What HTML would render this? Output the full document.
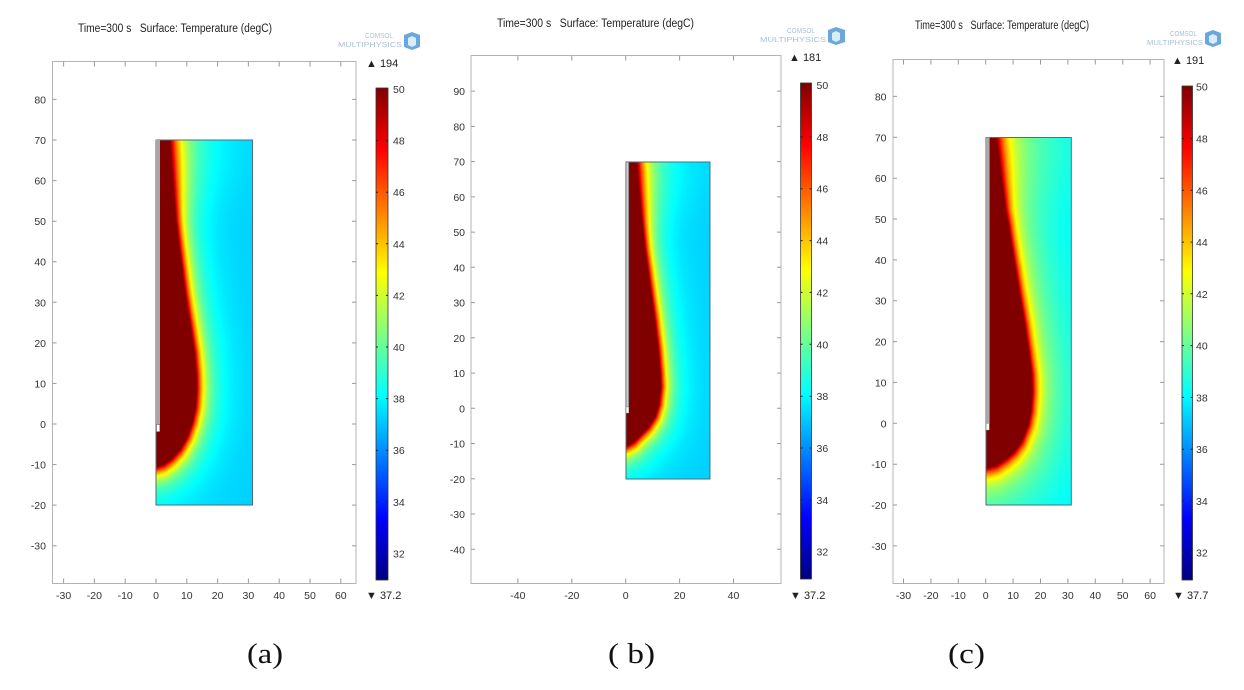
<!DOCTYPE html>
<html><head><meta charset="utf-8"><style>
html,body{margin:0;padding:0;background:#fff;}
body{width:1244px;height:690px;position:relative;overflow:hidden;}
svg{position:absolute;left:0;top:0;}
canvas{position:absolute;}
text{font-family:"Liberation Sans",Arial,sans-serif;}
.t{font-size:10.5px;fill:#333;}
.ttl{font-size:11.5px;fill:#222;white-space:pre;}
.lg{font-size:7px;fill:#a9bfd6;}
.cap{font-family:"Liberation Serif","Times New Roman",serif;font-size:28px;fill:#111;}
</style></head><body>
<svg width="1244" height="690" viewBox="0 0 1244 690">
<defs>
<linearGradient id="jet" x1="0" y1="1" x2="0" y2="0">
<stop offset="0" stop-color="#000080"/><stop offset="0.125" stop-color="#0000ff"/><stop offset="0.375" stop-color="#00ffff"/><stop offset="0.625" stop-color="#ffff00"/><stop offset="0.875" stop-color="#ff0000"/><stop offset="1" stop-color="#800000"/>
</linearGradient>
</defs>

<!-- ================= Panel (a) ================= -->
<text class="ttl" x="78" y="32" textLength="194" lengthAdjust="spacingAndGlyphs">Time=300 s&#160;&#160;&#160;Surface: Temperature (degC)</text>
<text class="lg" x="365" y="38" textLength="28" lengthAdjust="spacingAndGlyphs">COMSOL</text>
<text class="lg" x="338" y="47" textLength="64" lengthAdjust="spacingAndGlyphs">MULTIPHYSICS</text>
<polygon points="412,32 420,35 420,47 412,50 404,47 404,35" fill="#6aa8dc"/><polygon points="412,36 416,38 416,45 412,47 408,45 408,38" fill="#d8ecfa"/>
<rect x="52.5" y="61.5" width="303.5" height="522" fill="none" stroke="#b4b4b4"/>
<path stroke="#9a9a9a" fill="none" d="M63.6 583.5v-5M94.4 583.5v-5M125.2 583.5v-5M156 583.5v-5M186.8 583.5v-5M217.6 583.5v-5M248.4 583.5v-5M279.2 583.5v-5M310 583.5v-5M340.8 583.5v-5
M63.6 61.5v5M94.4 61.5v5M125.2 61.5v5M156 61.5v5M186.8 61.5v5M217.6 61.5v5M248.4 61.5v5M279.2 61.5v5M310 61.5v5M340.8 61.5v5
M52.5 99.4h4M52.5 140h4M52.5 180.6h4M52.5 221.2h4M52.5 261.7h4M52.5 302.3h4M52.5 342.9h4M52.5 383.4h4M52.5 424h4M52.5 464.6h4M52.5 505.1h4M52.5 545.7h4
M356 99.4h-4M356 140h-4M356 180.6h-4M356 221.2h-4M356 261.7h-4M356 302.3h-4M356 342.9h-4M356 383.4h-4M356 424h-4M356 464.6h-4M356 505.1h-4M356 545.7h-4"/>
<g class="t" text-anchor="middle">
<text x="63.6" y="599">-30</text><text x="94.4" y="599">-20</text><text x="125.2" y="599">-10</text><text x="156" y="599">0</text><text x="186.8" y="599">10</text><text x="217.6" y="599">20</text><text x="248.4" y="599">30</text><text x="279.2" y="599">40</text><text x="310" y="599">50</text><text x="340.8" y="599">60</text>
</g>
<g class="t" text-anchor="end">
<text x="46" y="103.4">80</text><text x="46" y="144">70</text><text x="46" y="184.6">60</text><text x="46" y="225.2">50</text><text x="46" y="265.7">40</text><text x="46" y="306.3">30</text><text x="46" y="346.9">20</text><text x="46" y="387.4">10</text><text x="46" y="428">0</text><text x="46" y="468.6">-10</text><text x="46" y="509.1">-20</text><text x="46" y="549.7">-30</text>
</g>
<rect x="376" y="88" width="12" height="492" fill="url(#jet)" stroke="#333" stroke-width="0.8"/>
<path stroke="#222" d="M376 140.6h2M376 192.2h2M376 243.8h2M376 295.4h2M376 347h2M376 398.6h2M376 450.2h2M376 501.8h2M376 553.4h2M388 140.6h-2M388 192.2h-2M388 243.8h-2M388 295.4h-2M388 347h-2M388 398.6h-2M388 450.2h-2M388 501.8h-2M388 553.4h-2"/>
<g class="t">
<text x="393" y="93">50</text><text x="393" y="144.6">48</text><text x="393" y="196.2">46</text><text x="393" y="247.8">44</text><text x="393" y="299.4">42</text><text x="393" y="351">40</text><text x="393" y="402.6">38</text><text x="393" y="454.2">36</text><text x="393" y="505.8">34</text><text x="393" y="557.4">32</text>
<text x="366" y="67" style="font-size:11px;fill:#222">▲ 194</text>
<text x="366" y="599" style="font-size:11px;fill:#222">▼ 37.2</text>
</g>
<rect x="156" y="140" width="96.5" height="365" fill="#00e4ff"/>
<path d="M156 140H170L176 225L196 380L191 430L180 450L156 467Z" fill="#800000"/>

<!-- ================= Panel (b) ================= -->
<text class="ttl" x="497" y="27" textLength="197" lengthAdjust="spacingAndGlyphs">Time=300 s&#160;&#160;&#160;Surface: Temperature (degC)</text>
<text class="lg" x="787" y="33" textLength="28" lengthAdjust="spacingAndGlyphs">COMSOL</text>
<text class="lg" x="760" y="42" textLength="66" lengthAdjust="spacingAndGlyphs">MULTIPHYSICS</text>
<polygon points="836,27 845,30 845,42 836,45 828,42 828,30" fill="#6aa8dc"/><polygon points="836,31 840,33 840,40 836,42 832,40 832,33" fill="#d8ecfa"/>
<rect x="471" y="55.5" width="310" height="528" fill="none" stroke="#b4b4b4"/>
<path stroke="#9a9a9a" fill="none" d="M517.9 583.5v-5M571.8 583.5v-5M625.7 583.5v-5M679.6 583.5v-5M733.5 583.5v-5
M517.9 55.5v5M571.8 55.5v5M625.7 55.5v5M679.6 55.5v5M733.5 55.5v5
M471 91.1h4M471 126.4h4M471 161.6h4M471 196.9h4M471 232.1h4M471 267.3h4M471 302.6h4M471 337.8h4M471 373.1h4M471 408.3h4M471 443.5h4M471 478.8h4M471 514h4M471 549.3h4
M781 91.1h-4M781 126.4h-4M781 161.6h-4M781 196.9h-4M781 232.1h-4M781 267.3h-4M781 302.6h-4M781 337.8h-4M781 373.1h-4M781 408.3h-4M781 443.5h-4M781 478.8h-4M781 514h-4M781 549.3h-4"/>
<g class="t" text-anchor="middle">
<text x="517.9" y="599">-40</text><text x="571.8" y="599">-20</text><text x="625.7" y="599">0</text><text x="679.6" y="599">20</text><text x="733.5" y="599">40</text>
</g>
<g class="t" text-anchor="end">
<text x="465" y="95.1">90</text><text x="465" y="130.4">80</text><text x="465" y="165.6">70</text><text x="465" y="200.9">60</text><text x="465" y="236.1">50</text><text x="465" y="271.3">40</text><text x="465" y="306.6">30</text><text x="465" y="341.8">20</text><text x="465" y="377.1">10</text><text x="465" y="412.3">0</text><text x="465" y="447.5">-10</text><text x="465" y="482.8">-20</text><text x="465" y="518">-30</text><text x="465" y="553.3">-40</text>
</g>
<rect x="800.5" y="83" width="11" height="496" fill="url(#jet)" stroke="#333" stroke-width="0.8"/>
<path stroke="#222" d="M800.5 136.9h2M800.5 188.7h2M800.5 240.6h2M800.5 292.4h2M800.5 344.3h2M800.5 396.2h2M800.5 448h2M800.5 499.9h2M800.5 551.7h2M811.5 136.9h-2M811.5 188.7h-2M811.5 240.6h-2M811.5 292.4h-2M811.5 344.3h-2M811.5 396.2h-2M811.5 448h-2M811.5 499.9h-2M811.5 551.7h-2"/>
<g class="t">
<text x="816.5" y="89">50</text><text x="816.5" y="140.9">48</text><text x="816.5" y="192.7">46</text><text x="816.5" y="244.6">44</text><text x="816.5" y="296.4">42</text><text x="816.5" y="348.3">40</text><text x="816.5" y="400.2">38</text><text x="816.5" y="452">36</text><text x="816.5" y="503.9">34</text><text x="816.5" y="555.7">32</text>
<text x="789" y="61" style="font-size:11px;fill:#222">▲ 181</text>
<text x="790" y="599" style="font-size:11px;fill:#222">▼ 37.2</text>
</g>
<rect x="626" y="162" width="84" height="317" fill="#00e4ff"/>
<path d="M626 162H637L645 250L660 383L655 417L642 434L626 447Z" fill="#800000"/>

<!-- ================= Panel (c) ================= -->
<text class="ttl" x="915" y="29" textLength="174" lengthAdjust="spacingAndGlyphs">Time=300 s&#160;&#160;&#160;Surface: Temperature (degC)</text>
<text class="lg" x="1170" y="36" textLength="27" lengthAdjust="spacingAndGlyphs">COMSOL</text>
<text class="lg" x="1147" y="45" textLength="56" lengthAdjust="spacingAndGlyphs">MULTIPHYSICS</text>
<polygon points="1213,30 1221,33 1221,44 1213,47 1205,44 1205,33" fill="#6aa8dc"/><polygon points="1213,34 1217,36 1217,42 1213,44 1209,42 1209,36" fill="#d8ecfa"/>
<rect x="893" y="59.5" width="271" height="524" fill="none" stroke="#b4b4b4"/>
<path stroke="#9a9a9a" fill="none" d="M903.5 583.5v-5M930.9 583.5v-5M958.3 583.5v-5M985.7 583.5v-5M1013.1 583.5v-5M1040.5 583.5v-5M1067.9 583.5v-5M1095.3 583.5v-5M1122.7 583.5v-5M1150.1 583.5v-5
M903.5 59.5v5M930.9 59.5v5M958.3 59.5v5M985.7 59.5v5M1013.1 59.5v5M1040.5 59.5v5M1067.9 59.5v5M1095.3 59.5v5M1122.7 59.5v5M1150.1 59.5v5
M893 96.4h4M893 137.3h4M893 178.2h4M893 219h4M893 259.9h4M893 300.7h4M893 341.6h4M893 382.4h4M893 423.3h4M893 464.2h4M893 505h4M893 545.9h4
M1164 96.4h-4M1164 137.3h-4M1164 178.2h-4M1164 219h-4M1164 259.9h-4M1164 300.7h-4M1164 341.6h-4M1164 382.4h-4M1164 423.3h-4M1164 464.2h-4M1164 505h-4M1164 545.9h-4"/>
<g class="t" text-anchor="middle">
<text x="903.5" y="599">-30</text><text x="930.9" y="599">-20</text><text x="958.3" y="599">-10</text><text x="985.7" y="599">0</text><text x="1013.1" y="599">10</text><text x="1040.5" y="599">20</text><text x="1067.9" y="599">30</text><text x="1095.3" y="599">40</text><text x="1122.7" y="599">50</text><text x="1150.1" y="599">60</text>
</g>
<g class="t" text-anchor="end">
<text x="886.5" y="100.4">80</text><text x="886.5" y="141.3">70</text><text x="886.5" y="182.2">60</text><text x="886.5" y="223">50</text><text x="886.5" y="263.9">40</text><text x="886.5" y="304.7">30</text><text x="886.5" y="345.6">20</text><text x="886.5" y="386.4">10</text><text x="886.5" y="427.3">0</text><text x="886.5" y="468.2">-10</text><text x="886.5" y="509">-20</text><text x="886.5" y="549.9">-30</text>
</g>
<rect x="1182" y="86" width="10.5" height="494" fill="url(#jet)" stroke="#333" stroke-width="0.8"/>
<path stroke="#222" d="M1182 138.5h2M1182 190.3h2M1182 242.1h2M1182 293.8h2M1182 345.6h2M1182 397.4h2M1182 449.2h2M1182 501h2M1182 552.7h2M1192.5 138.5h-2M1192.5 190.3h-2M1192.5 242.1h-2M1192.5 293.8h-2M1192.5 345.6h-2M1192.5 397.4h-2M1192.5 449.2h-2M1192.5 501h-2M1192.5 552.7h-2"/>
<g class="t">
<text x="1196" y="90.7">50</text><text x="1196" y="142.5">48</text><text x="1196" y="194.3">46</text><text x="1196" y="246.1">44</text><text x="1196" y="297.8">42</text><text x="1196" y="349.6">40</text><text x="1196" y="401.4">38</text><text x="1196" y="453.2">36</text><text x="1196" y="505">34</text><text x="1196" y="556.7">32</text>
<text x="1172" y="64" style="font-size:11px;fill:#222">▲ 191</text>
<text x="1173" y="599" style="font-size:11px;fill:#222">▼ 37.7</text>
</g>
<rect x="986" y="137.5" width="85.3" height="367.5" fill="#30ffd0"/>
<path d="M986 137.5H997L1009 225L1032 390L1028 425L1008 458L986 468Z" fill="#800000"/>

<!-- captions -->
<text class="cap" x="247" y="663" textLength="36" lengthAdjust="spacingAndGlyphs">(a)</text>
<text class="cap" x="608" y="663" textLength="47" lengthAdjust="spacingAndGlyphs">( b)</text>
<text class="cap" x="948" y="663" textLength="37" lengthAdjust="spacingAndGlyphs">(c)</text>
</svg>

<canvas id="c0" width="97" height="365" style="left:156px;top:140px;width:97px;height:365px"></canvas>
<canvas id="c1" width="84" height="317" style="left:626px;top:162px;width:84px;height:317px"></canvas>
<canvas id="c2" width="85" height="368" style="left:986px;top:137px;width:85px;height:368px"></canvas>

<svg width="1244" height="690" viewBox="0 0 1244 690" style="pointer-events:none">
<rect x="156" y="140" width="96.5" height="365" fill="none" stroke="#4d6f7a" stroke-width="1"/>
<rect x="156" y="140" width="4" height="284" fill="#a6a6a6"/>
<rect x="156.6" y="424.5" width="3" height="7" fill="#fff" stroke="#999" stroke-width="0.4"/>

<rect x="626" y="162" width="84" height="317" fill="none" stroke="#4d6f7a" stroke-width="1"/>
<rect x="626" y="162" width="2.8" height="245" fill="#cfcfcf" stroke="#555" stroke-width="0.6"/>
<rect x="626.2" y="407" width="2.5" height="6" fill="#fff" stroke="#999" stroke-width="0.4"/>

<rect x="986" y="137.5" width="85.3" height="367.5" fill="none" stroke="#4d6f7a" stroke-width="1"/>
<rect x="986" y="137.5" width="3.6" height="286" fill="#a8a8a8"/>
<rect x="986.3" y="423.5" width="3" height="6.5" fill="#fff" stroke="#999" stroke-width="0.4"/>
</svg>

<script>
(function(){
var P=[
{id:'c0',l:156,t:140,x0:156,sx:3.08,y0:424,sy:4.057,Ti:37.2,A1:8,L1:2,A2:4.8,L2:5.5,
 pts:[[4.0,76],[4.5,70],[5.5,60],[6.5,50],[7.8,42],[9.5,32],[11.2,24],[12.5,17.5],[13.1,12],[13.2,8.5],[12.8,4],[11.8,0.5],[10.2,-3],[7.8,-6.3],[5,-8.6],[2.5,-10],[0,-10.6]]},
{id:'c1',l:626,t:162,x0:625.7,sx:2.695,y0:408.3,sy:3.524,Ti:37.2,A1:8,L1:2,A2:4.8,L2:5.5,
 pts:[[3.7,76],[4.1,70],[5.2,60],[6.2,52],[7.2,45],[9,35],[10.8,25],[12.1,16.5],[12.8,10],[13,6],[12.3,1],[10.9,-2.4],[8.5,-5.3],[5.9,-7.3],[3,-9.6],[0,-10.9]]},
{id:'c2',l:986,t:137,x0:985.7,sx:2.74,y0:423.3,sy:4.086,Ti:37.7,A1:7,L1:1.8,A2:5.3,L2:9,
 pts:[[3.5,76],[4,70],[5.8,60],[7.3,52],[8.3,48.5],[10.3,40],[12.5,31],[14.3,24],[15.8,17],[16.8,11.8],[17,7.7],[16.5,3],[15.5,-0.4],[13.1,-4.5],[10.5,-6.9],[7.7,-8.6],[4,-10.3],[0,-11]]}
];
function cl(v){return v<0?0:(v>1?1:v);}
function jet(t){t=cl(t);return [cl(1.5-Math.abs(4*t-3)),cl(1.5-Math.abs(4*t-2)),cl(1.5-Math.abs(4*t-1))];}
P.forEach(function(p){
 var c=document.getElementById(p.id); if(!c||!c.getContext)return;
 var ctx=c.getContext('2d'), W=c.width, H=c.height, img=ctx.createImageData(W,H), d=img.data;
 var pts=p.pts, n=pts.length, ybot=pts[n-1][1];
 for(var j=0;j<H;j++){
  var py=p.t+j+0.5, y=(p.y0-py)/p.sy;
  var xb=-1;
  if(y>=ybot){
   for(var k=0;k<n-1;k++){
    var a=pts[k],b=pts[k+1];
    if(y<=a[1]&&y>=b[1]){var f=(a[1]-b[1])?(a[1]-y)/(a[1]-b[1]):0;xb=a[0]+f*(b[0]-a[0]);break;}
   }
   if(xb<0&&y>pts[0][1])xb=pts[0][0];
  }
  var s=cl((y-45)/25); s=s*s*(3-2*s); var fac=1+0.6*s;
  var L1=p.L1*fac, L2=p.L2*fac;
  for(var i=0;i<W;i++){
   var px=p.l+i+0.5, x=(px-p.x0)/p.sx, T;
   if(x<=xb){T=60;}
   else{
    var md=1e9;
    for(var k=0;k<n-1;k++){
     var ax=pts[k][0],ay=pts[k][1],bx=pts[k+1][0],by=pts[k+1][1];
     var dx=bx-ax,dy=by-ay,l2=dx*dx+dy*dy,u=l2?((x-ax)*dx+(y-ay)*dy)/l2:0;
     u=u<0?0:(u>1?1:u);
     var ex=ax+u*dx-x,ey=ay+u*dy-y,dd=ex*ex+ey*ey;
     if(dd<md)md=dd;
    }
    var dist=Math.sqrt(md);
    T=p.Ti+p.A1*Math.exp(-dist/L1)+p.A2*Math.exp(-dist/L2);
   }
   var col=jet((T-30.95)/19.05), o=(j*W+i)*4;
   d[o]=Math.round(col[0]*255);d[o+1]=Math.round(col[1]*255);d[o+2]=Math.round(col[2]*255);d[o+3]=255;
  }
 }
 ctx.putImageData(img,0,0);
});
})();
</script>
</body></html>
